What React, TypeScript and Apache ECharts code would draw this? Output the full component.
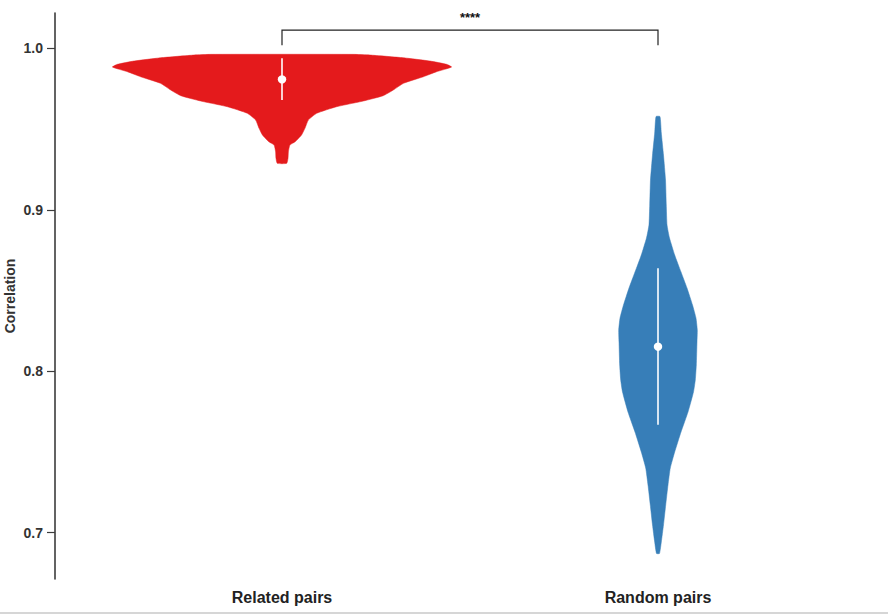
import React, { useEffect, useRef } from "react";
import * as echarts from "echarts";

const FONT = '"Liberation Sans", Arial, Helvetica, sans-serif';

const categories = ["Related pairs", "Random pairs"];
const violinColors = ["#E41A1C", "#377EB8"];

// Kernel density outlines: correlation value and half-width (fraction of category band)
const relatedValues = [
  0.99628, 0.99585, 0.99418, 0.99213, 0.99009, 0.98842, 0.98551, 0.98241, 0.97832,
  0.97417, 0.97064, 0.96736, 0.96383, 0.95974, 0.9556, 0.95046, 0.94631, 0.94216,
  0.94011, 0.93596, 0.93188, 0.92878,
];
const relatedWidths = [
  0.189, 0.234, 0.322, 0.394, 0.438, 0.451, 0.411, 0.376, 0.323, 0.296, 0.269, 0.216,
  0.145, 0.092, 0.07, 0.061, 0.052, 0.035, 0.021, 0.017, 0.016, 0.0125,
];

const randomValues = [
  0.95776, 0.94754, 0.93392, 0.91843, 0.90295, 0.89057, 0.88252, 0.87199, 0.86146,
  0.85155, 0.84102, 0.83297, 0.82554, 0.81811, 0.80386, 0.79457, 0.78714, 0.77475,
  0.76237, 0.74998, 0.74007, 0.72954, 0.71716, 0.70477, 0.69424, 0.68712,
];
const randomWidths = [
  0.0053, 0.0088, 0.0146, 0.02, 0.022, 0.024, 0.0306, 0.0444, 0.0612, 0.0771, 0.0918,
  0.101, 0.1045, 0.1037, 0.1019, 0.0992, 0.0944, 0.0798, 0.0612, 0.0444, 0.0327,
  0.0266, 0.0205, 0.0146, 0.0088, 0.004,
];

const medians = [0.9808, 0.8152];
const whiskerHigh = [0.9938, 0.8638];
const whiskerLow = [0.968, 0.7668];

const yTicks = [0.7, 0.8, 0.9, 1.0];
const yMin = 0.6713;
const yMax = 1.0219;

const sigPair = [0, 1];
const sigBarValue = 1.0113;
const sigDropValue = 1.002;
const sigLabelValue = 1.0194;
const sigLabel = "****";

const violinValues = [relatedValues, randomValues];
const violinWidths = [relatedWidths, randomWidths];

export default function App() {
  const ref = useRef<HTMLDivElement>(null);

  useEffect(() => {
    if (!ref.current) return;
    const chart = echarts.init(ref.current, null, { renderer: "svg" });

    const option = {
      animation: false,
      backgroundColor: "#ffffff",
      grid: {
        left: 94,
        right: 42,
        top: 13,
        bottom: 35,
        containLabel: false,
        outerBoundsMode: "none",
      },
      xAxis: {
        type: "category",
        data: categories,
        axisLine: { show: false },
        axisTick: { show: false },
        splitLine: { show: false },
        axisLabel: {
          interval: 0,
          margin: 10,
          fontSize: 16,
          fontWeight: "bold",
          color: "#222",
          fontFamily: FONT,
        },
      },
      yAxis: {
        type: "value",
        min: yMin,
        max: yMax,
        offset: 39,
        name: "Correlation",
        nameLocation: "middle",
        nameGap: 38,
        nameMoveOverlap: false,
        nameTextStyle: { fontSize: 14, fontWeight: "bold", color: "#333", fontFamily: FONT },
        axisLine: { show: true, lineStyle: { color: "#3c3c3c", width: 1.6 } },
        axisTick: {
          show: true,
          length: 8,
          customValues: yTicks,
          lineStyle: { color: "#3c3c3c", width: 1.2 },
        },
        axisLabel: {
          customValues: yTicks,
          formatter: (v: number) => v.toFixed(1),
          margin: 12,
          fontSize: 14,
          fontWeight: "bold",
          color: "#333",
          fontFamily: FONT,
        },
        splitLine: { show: false },
      },
      graphic: [
        {
          type: "line",
          shape: { x1: 0, y1: 613, x2: 888, y2: 613 },
          style: { stroke: "#c8c8c8", lineWidth: 1.5 },
        },
      ],
      series: [
        {
          type: "custom",
          name: "violins",
          data: categories.map((_, i) => [i, medians[i]]),
          encode: { x: 0, y: 1 },
          clip: false,
          renderItem: (params: any, api: any) => {
            const i = params.dataIndex;
            const vals = violinValues[i];
            const wids = violinWidths[i];
            const band = api.size([1, 0])[0];
            const right = vals.map((v, k) => {
              const p = api.coord([i, v]);
              return [p[0] + wids[k] * band, p[1]];
            });
            const left = vals
              .map((v, k) => {
                const p = api.coord([i, v]);
                return [p[0] - wids[k] * band, p[1]];
              })
              .reverse();
            const top = api.coord([i, whiskerHigh[i]]);
            const bot = api.coord([i, whiskerLow[i]]);
            const med = api.coord([i, medians[i]]);
            return {
              type: "group",
              children: [
                {
                  type: "polygon",
                  shape: { points: right.concat(left), smooth: 0.15 },
                  style: { fill: violinColors[i], stroke: violinColors[i], lineWidth: 0.5 },
                },
                {
                  type: "line",
                  shape: { x1: top[0], y1: top[1], x2: bot[0], y2: bot[1] },
                  style: { stroke: "#ffffff", lineWidth: 1.6 },
                },
                {
                  type: "circle",
                  shape: { cx: med[0], cy: med[1], r: 4.2 },
                  style: { fill: "#ffffff" },
                },
              ],
            };
          },
        },
        {
          type: "custom",
          name: "significance",
          data: [[sigPair[0], sigBarValue]],
          encode: { x: 0, y: 1 },
          clip: false,
          renderItem: (_params: any, api: any) => {
            const a = api.coord([sigPair[0], sigDropValue]);
            const b = api.coord([sigPair[0], sigBarValue]);
            const c = api.coord([sigPair[1], sigBarValue]);
            const d = api.coord([sigPair[1], sigDropValue]);
            const t = api.coord([sigPair[0], sigLabelValue]);
            return {
              type: "group",
              children: [
                {
                  type: "polyline",
                  shape: { points: [a, b, c, d] },
                  style: { stroke: "#222", lineWidth: 1.2, fill: "none" },
                },
                {
                  type: "text",
                  x: (b[0] + c[0]) / 2,
                  y: t[1],
                  style: {
                    text: sigLabel,
                    fill: "#111",
                    fontSize: 13,
                    fontWeight: "bold",
                    fontFamily: FONT,
                    align: "center",
                    verticalAlign: "middle",
                  },
                },
              ],
            };
          },
        },
      ],
    };

    chart.setOption(option as any);
    return () => chart.dispose();
  }, []);

  return (
    <div
      ref={ref}
      style={{ position: "fixed", left: 0, top: 0, width: 888, height: 614, background: "#fff" }}
    />
  );
}
